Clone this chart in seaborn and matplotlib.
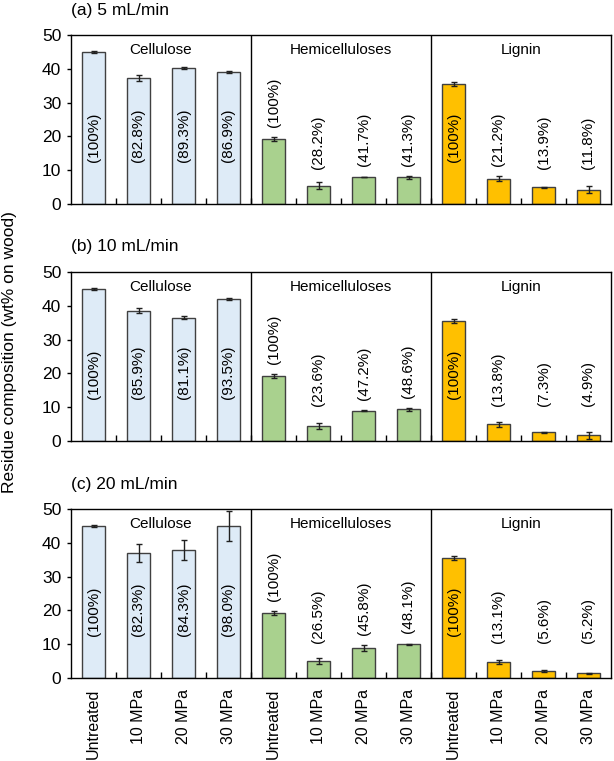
import numpy as np
import pandas as pd
import matplotlib
matplotlib.use("Agg")
import matplotlib.pyplot as plt
import seaborn as sns

sns.set_theme(style="white")
plt.rcParams["font.family"] = ["Liberation Sans", "DejaVu Sans"]

COMPONENTS = ["Cellulose", "Hemicelluloses", "Lignin"]
CONDITIONS = ["Untreated", "10 MPa", "20 MPa", "30 MPa"]
PANELS     = ["(a) 5 mL/min", "(b) 10 mL/min", "(c) 20 mL/min"]
COLORS     = {"Cellulose": "#DEEBF7", "Hemicelluloses": "#A9D18E", "Lignin": "#FFC000"}

# residue composition (wt% on wood), cellulose | hemicelluloses | lignin
a_mean = [45.0, 37.3, 40.2, 39.1, 19.2, 5.4, 8.0, 7.9, 35.5, 7.5, 4.9, 4.2]
a_err  = [0.4, 0.8, 0.4, 0.2, 0.6, 1.0, 0.1, 0.4, 0.7, 0.8, 0.1, 1.0]
a_pct  = ["100%", "82.8%", "89.3%", "86.9%", "100%", "28.2%", "41.7%", "41.3%",
          "100%", "21.2%", "13.9%", "11.8%"]

b_mean = [45.0, 38.6, 36.5, 42.0, 19.2, 4.5, 9.0, 9.4, 35.5, 4.9, 2.6, 1.7]
b_err  = [0.4, 0.8, 0.4, 0.2, 0.6, 0.9, 0.1, 0.4, 0.7, 0.7, 0.1, 1.0]
b_pct  = ["100%", "85.9%", "81.1%", "93.5%", "100%", "23.6%", "47.2%", "48.6%",
          "100%", "13.8%", "7.3%", "4.9%"]

c_mean = [45.0, 37.0, 37.9, 45.0, 19.2, 5.0, 8.8, 10.0, 35.5, 4.6, 2.1, 1.4]
c_err  = [0.4, 2.6, 2.9, 4.4, 0.6, 1.0, 0.9, 0.2, 0.7, 0.6, 0.3, 0.2]
c_pct  = ["100%", "82.3%", "84.3%", "98.0%", "100%", "26.5%", "45.8%", "48.1%",
          "100%", "13.1%", "5.6%", "5.2%"]

series = [(a_mean, a_err, a_pct), (b_mean, b_err, b_pct), (c_mean, c_err, c_pct)]

comp_col = [c for c in COMPONENTS for _ in CONDITIONS]
cond_col = [k for _ in COMPONENTS for k in CONDITIONS]
keys     = [f"{c}|{k}" for c, k in zip(comp_col, cond_col)]

fig = plt.figure(figsize=(6.14, 7.61), dpi=100)
L, W, H = 71 / 614, 540 / 614, 169 / 761
bottoms = [1 - 204 / 761, 1 - 441 / 761, 1 - 678 / 761]

for i, (title, (mean, err, pct)) in enumerate(zip(PANELS, series)):
    ax = fig.add_axes([L, bottoms[i], W, H])
    df = pd.DataFrame({"key": keys, "component": comp_col, "value": mean})
    sns.barplot(data=df, x="key", y="value", hue="component", order=keys,
                palette=COLORS, saturation=1, dodge=False, width=0.53,
                edgecolor="#404040", linewidth=1, errorbar=None, legend=False, ax=ax)
    pos = np.arange(len(keys))
    ax.errorbar(pos, mean, yerr=err, fmt="none", ecolor="#202020",
                elinewidth=1, capsize=2.5, capthick=1, zorder=5)

    # percentage labels
    for x, v, e, p in zip(pos, mean, err, pct):
        yb = 12.5 if v > 30 else max(v + e + 3, 10.5)
        ax.text(x, yb, f"({p})", rotation=90, ha="center", va="bottom",
                fontsize=11, color="black")

    # group separators + names
    for g in range(1, len(COMPONENTS)):
        ax.axvline(g * len(CONDITIONS) - 0.5, color="black", lw=1)
    for g, name in enumerate(COMPONENTS):
        ax.text(g * len(CONDITIONS) + 1.5, 45.5, name, ha="center", va="center",
                fontsize=11, color="black")

    ax.set_xlim(-0.5, len(keys) - 0.5)
    ax.set_ylim(0, 50)
    ax.set_yticks([0, 10, 20, 30, 40, 50])
    ax.set_xlabel("")
    ax.set_ylabel("")
    ax.set_xticks(pos)
    ax.set_xticks(pos[:-1] + 0.5, minor=True)
    if i == 2:
        ax.set_xticklabels(cond_col, rotation=90, fontsize=11.5, color="black")
    else:
        ax.set_xticklabels([])
    ax.tick_params(axis="x", which="major", length=0, pad=8)
    ax.tick_params(axis="x", which="minor", bottom=True, direction="in",
                   length=4, width=1, color="black")
    ax.tick_params(axis="y", left=True, direction="out", length=3, width=1,
                   color="black", labelsize=12.5, labelcolor="black", pad=4)
    for s in ax.spines.values():
        s.set_color("black")
        s.set_linewidth(1)
    ax.text(0, 1 + 25 / 169, title, transform=ax.transAxes, ha="left",
            va="center", fontsize=12.5, color="black")

fig.text(10 / 614, 1 - 352 / 761, "Residue composition (wt% on wood)",
         rotation=90, ha="center", va="center", fontsize=12.5, color="black")

fig.savefig("out.png", dpi=100)
